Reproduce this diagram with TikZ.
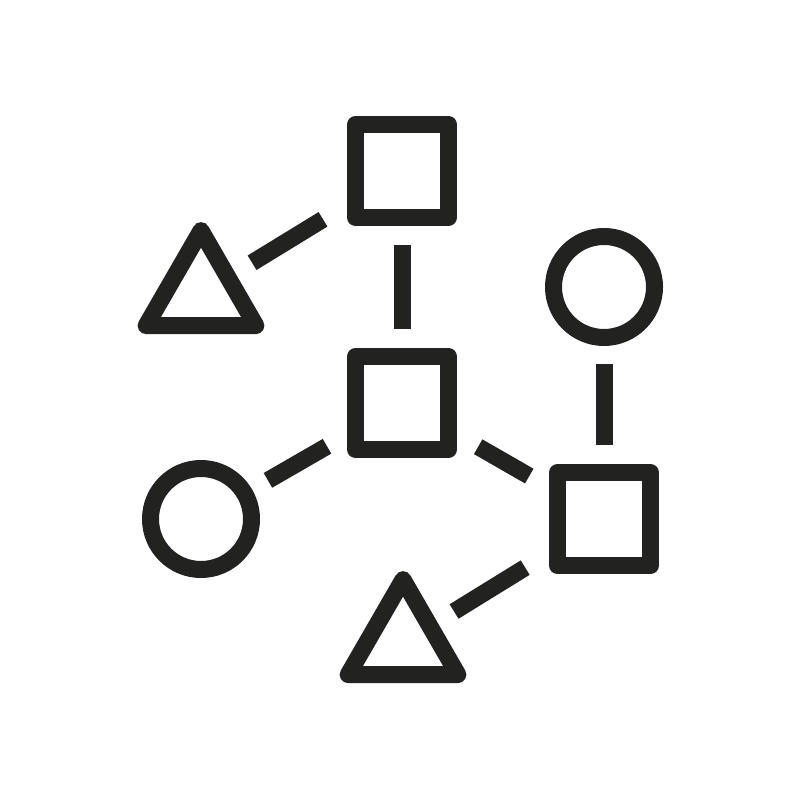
\documentclass[tikz,border=0pt]{standalone}
\usepackage{tikz}
\usetikzlibrary{shapes.geometric,calc}
\definecolor{ink}{RGB}{34,34,32}
\begin{document}
\begin{tikzpicture}[x=0.1mm,y=-0.1mm,
    outline/.style={draw=ink, line width=1.7mm, line join=round, inner sep=0pt, outer sep=0pt},
    sqbox/.style={outline, rectangle, minimum size=9.3mm},
    ringnode/.style={outline, circle, minimum size=10.1mm},
    trinode/.style={outline, regular polygon, regular polygon sides=3, minimum size=12.67mm},
    link/.style={draw=ink, line width=1.7mm}]
        \useasboundingbox (0,0) rectangle (800,800);

        % Squares
        \node[sqbox] (sqTop) at (402,171) {};
        \node[sqbox] (sqMid) at (402,403) {};
        \node[sqbox] (sqRight) at (604,519) {};

        % Circles and triangles
        \node[ringnode] (circRight) at (604,287) {};
        \node[ringnode] (circLeft) at (201,519) {};
        \node[trinode] (triLeft) at (201,294) {};
        \node[trinode] (triBottom) at (403,643) {};

        % Links, with a gap at each end
        \draw[link] ($(triLeft)!0.254!(sqTop)$) -- ($(triLeft)!0.607!(sqTop)$);
        \draw[link] ($(sqTop)!0.320!(sqMid)$) -- ($(sqTop)!0.683!(sqMid)$);
        \draw[link] ($(sqMid)!0.373!(circLeft)$) -- ($(sqMid)!0.667!(circLeft)$);
        \draw[link] ($(sqMid)!0.377!(sqRight)$) -- ($(sqMid)!0.630!(sqRight)$);
        \draw[link] ($(circRight)!0.331!(sqRight)$) -- ($(circRight)!0.680!(sqRight)$);
        \draw[link] ($(sqRight)!0.392!(triBottom)$) -- ($(sqRight)!0.746!(triBottom)$);
\end{tikzpicture}
\end{document}
